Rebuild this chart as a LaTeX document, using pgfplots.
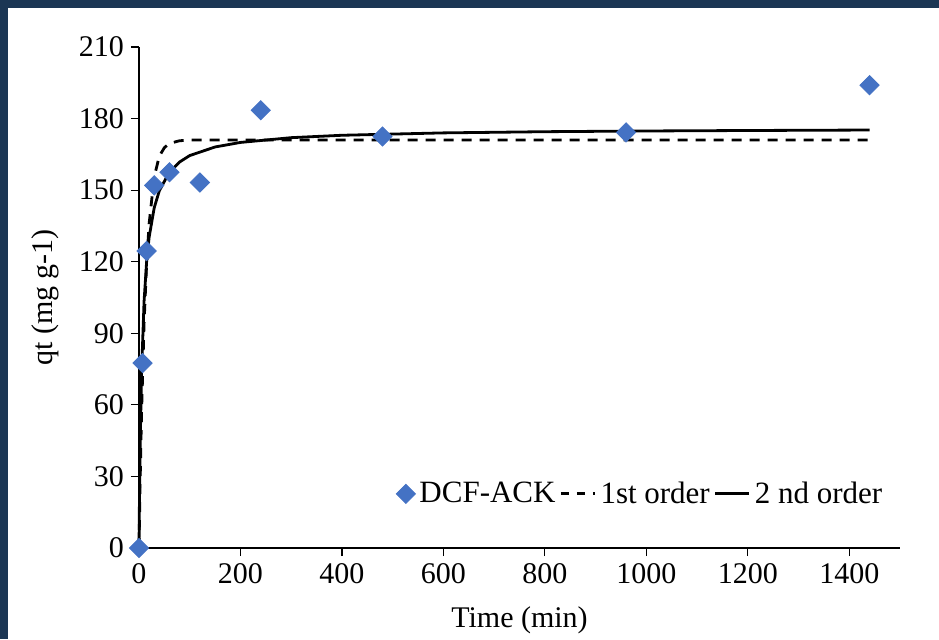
\documentclass[border=0pt]{standalone}
\usepackage{pgfplots}
\pgfplotsset{compat=1.18}
\usepackage{fontspec}
\setmainfont{Liberation Serif}
\definecolor{frameblue}{HTML}{1B3654}
\definecolor{ptblue}{HTML}{4472C4}
\begin{document}
\begin{tikzpicture}
\useasboundingbox (0,0) rectangle (469.5pt,319.5pt);
\fill[frameblue] (0,0) rectangle (469.5pt,319.5pt);
\fill[white] (4pt,0) rectangle (469.5pt,315.5pt);
\begin{axis}[
  at={(69.5pt,45.5pt)}, anchor=south west,
  scale only axis, width=380.5pt, height=250.5pt,
  xmin=0, xmax=1500, ymin=0, ymax=210,
  axis lines=left, axis line style={-, line width=0.7pt},
  xtick={0,200,...,1400}, ytick={0,30,...,210},
  tick align=outside, major tick length=4pt,
  tick style={black, line width=0.6pt},
  /pgf/number format/assume math mode=true,
  /pgf/number format/1000 sep={},
  tick label style={font=\fontsize{15}{17}\selectfont},
  label style={font=\fontsize{15}{17}\selectfont},
  xlabel={Time (min)}, ylabel={qt (mg g-1)},
  xlabel style={at={(axis description cs:0.5,-0.1437)}, anchor=center},
  ylabel style={at={(axis description cs:-0.1235,0.5)}, anchor=center},
  legend style={at={(0.985,0.108)}, anchor=east, draw=none, fill=none,
    font=\fontsize{15.5}{17}\selectfont, column sep=0pt, inner sep=1pt},
  legend columns=3,
  clip=false,
]
\addlegendimage{only marks, mark=square*, mark size=3.4pt, mark options={rotate=45, fill=ptblue, draw=ptblue}, ptblue}
\addlegendentry{DCF-ACK}
\addlegendimage{black, line width=1.4pt, dash pattern=on 4pt off 4pt}
\addlegendentry{1st order}
\addlegendimage{black, line width=1.4pt}
\addlegendentry{2 nd order}
% pseudo-first order fit
\addplot[black, line width=1.4pt, dash pattern=on 5pt off 4pt, forget plot] coordinates {
(0,0) (2,25.3) (5,56.5) (10,94.2) (15,119) (20,136) (30,155.6) (40,164.2) (50,167.8) (60,169.6) (80,170.7) (100,171) (200,171) (400,171) (800,171) (1200,171) (1440,171)};
% pseudo-second order fit
\addplot[black, line width=1.4pt, forget plot] coordinates {
(0,0) (1,21.9) (2,39.0) (5,73.2) (10,103.4) (15,119.9) (20,130.3) (30,142.6) (40,149.7) (60,157.6) (80,161.8) (100,164.5) (150,168.1) (200,170.0) (300,172.0) (400,173.0) (600,174.0) (800,174.5) (1000,174.8) (1200,175.0) (1440,175.2)};
% experimental data
\addplot[only marks, mark=square*, mark size=3.4pt, mark options={rotate=45, fill=ptblue, draw=ptblue}, forget plot] coordinates {
(0,0) (7,77.5) (15,124.5) (30,152) (60,157.5) (120,153.2) (240,183.5) (480,172.5) (960,174.2) (1440,194)};
\end{axis}
\end{tikzpicture}
\end{document}
